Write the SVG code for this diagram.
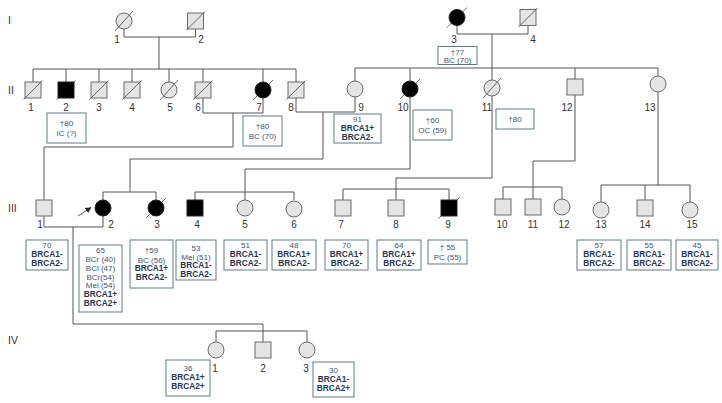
<svg xmlns="http://www.w3.org/2000/svg" width="722" height="403" viewBox="0 0 722 403">
<defs>
<style>
.m{fill:#e4e4e4;stroke:#6a6a6a;stroke-width:1}
.a{fill:#000;stroke:#222;stroke-width:1}
.s{stroke:#555;stroke-width:0.9}
.ln{fill:none;stroke:#555;stroke-width:1}
.bx{fill:#fff;stroke:#5d7c84;stroke-width:1}
.g{font-family:"Liberation Sans",Arial,sans-serif;font-size:10.5px;fill:#333}
.n{font-family:"Liberation Sans",Arial,sans-serif;font-size:10px;fill:#333;text-anchor:middle}
.t{font-family:"Liberation Sans",Arial,sans-serif;font-size:8px;fill:#3d5574;text-anchor:middle}
.b{font-family:"Liberation Sans",Arial,sans-serif;font-size:8.3px;font-weight:bold;fill:#1f3654;text-anchor:middle}
</style>
<marker id="arr" viewBox="0 0 10 10" refX="9" refY="5" markerWidth="6" markerHeight="6" orient="auto" markerUnits="userSpaceOnUse">
<path d="M0,0 L10,5 L0,10 z" fill="#222"/>
</marker>
</defs>
<rect width="722" height="403" fill="#fff"/>

<g id="generation-labels">
<text class="g" x="8" y="24">I</text>
<text class="g" x="8" y="94">II</text>
<text class="g" x="8" y="212">III</text>
<text class="g" x="8" y="344">IV</text>
</g>

<g id="connectors">
<path class="ln" d="M124,29 V37 H195.5 V29"/>
<path class="ln" d="M159,37 V69"/>
<path class="ln" d="M33,69 H296 M33,69 V82 M66,69 V82 M99,69 V82 M132,69 V82 M169,69 V82 M203,69 V82 M263,69 V82 M296,69 V82"/>
<path class="ln" d="M457,25.5 V34 H528 V25.5"/>
<path class="ln" d="M492,34 V68"/>
<path class="ln" d="M355,68 H658 M355,68 V81 M410,68 V81 M492,68 V80 M575,68 V79 M658,68 V76"/>
<path class="ln" d="M203,98 V113 H263 V98"/>
<path class="ln" d="M233,113 V147 H44 V200"/>
<path class="ln" d="M296,98 V112 H355 V97"/>
<path class="ln" d="M323,112 V159 H130 V192"/>
<path class="ln" d="M103,192 H156 M103,192 V200 M156,192 V200"/>
<path class="ln" d="M410,97 V169 H245 V200"/>
<path class="ln" d="M195,192 H294 M195,192 V200 M294,192 V200"/>
<path class="ln" d="M492,96 V178 H396 V189"/>
<path class="ln" d="M343,189 H449 M343,189 V200 M396,189 V200 M449,189 V200"/>
<path class="ln" d="M575,95 V161 H533 V187"/>
<path class="ln" d="M503,187 H562 M503,187 V200 M533,187 V200 M562,187 V200"/>
<path class="ln" d="M658,92 V185"/>
<path class="ln" d="M601,185 H690 M601,185 V202 M645,185 V200 M690,185 V202"/>
<path class="ln" d="M44,216 V227 H103 V216"/>
<path class="ln" d="M73,227 V324 H263 V331"/>
<path class="ln" d="M216,331 H307 M216,331 V342 M263,331 V342 M307,331 V342"/>
<path class="ln" d="M78,216 L91,207.5" marker-end="url(#arr)"/>
</g>

<!-- Generation I -->
<g id="I-1"><circle class="m" cx="124" cy="21" r="8"/><line class="s" x1="115" y1="31" x2="133" y2="11"/><text class="n" x="117" y="43">1</text></g>
<g id="I-2"><rect class="m" x="187.5" y="13" width="16" height="16"/><line class="s" x1="186" y1="30.5" x2="205" y2="11.5"/><text class="n" x="201" y="43">2</text></g>
<g id="I-3"><line class="s" x1="447" y1="27.5" x2="467" y2="7.5"/><circle class="a" cx="457" cy="17.5" r="8"/><text class="n" x="454" y="43">3</text>
<rect class="bx" x="438" y="46.5" width="39" height="18"/><text class="t" x="457.5" y="54.5">†77</text><text class="t" x="457.5" y="63">BC (70)</text></g>
<g id="I-4"><rect class="m" x="520" y="9.5" width="16" height="16"/><line class="s" x1="518.5" y1="27" x2="537.5" y2="8"/><text class="n" x="533" y="43">4</text></g>

<!-- Generation II -->
<g id="II-1"><rect class="m" x="25" y="82" width="16" height="16"/><line class="s" x1="23.5" y1="99.5" x2="42.5" y2="80.5"/><text class="n" x="31" y="111">1</text></g>
<g id="II-2"><line class="s" x1="56.5" y1="99.5" x2="75.5" y2="80.5"/><rect class="a" x="58" y="82" width="16" height="16"/><text class="n" x="66" y="111">2</text>
<rect class="bx" x="47" y="113" width="39" height="30"/><text class="t" x="66.5" y="126">†80</text><text class="t" x="66.5" y="136">IC (?)</text></g>
<g id="II-3"><rect class="m" x="91" y="82" width="16" height="16"/><line class="s" x1="89.5" y1="99.5" x2="108.5" y2="80.5"/><text class="n" x="99" y="111">3</text></g>
<g id="II-4"><rect class="m" x="124" y="82" width="16" height="16"/><line class="s" x1="122.5" y1="99.5" x2="141.5" y2="80.5"/><text class="n" x="132" y="111">4</text></g>
<g id="II-5"><circle class="m" cx="169" cy="90" r="8"/><line class="s" x1="160" y1="100" x2="178" y2="80"/><text class="n" x="170" y="111">5</text></g>
<g id="II-6"><rect class="m" x="195" y="82" width="16" height="16"/><line class="s" x1="193.5" y1="99.5" x2="212.5" y2="80.5"/><text class="n" x="198" y="111">6</text></g>
<g id="II-7"><line class="s" x1="253" y1="100" x2="273" y2="80"/><circle class="a" cx="263" cy="90" r="8"/><text class="n" x="259" y="111">7</text>
<rect class="bx" x="243" y="116" width="39" height="30"/><text class="t" x="262.5" y="129">†80</text><text class="t" x="262.5" y="139">BC (70)</text></g>
<g id="II-8"><rect class="m" x="288" y="82" width="16" height="16"/><line class="s" x1="286.5" y1="99.5" x2="305.5" y2="80.5"/><text class="n" x="291" y="111">8</text></g>
<g id="II-9"><circle class="m" cx="355" cy="89" r="8"/><text class="n" x="361" y="111">9</text>
<rect class="bx" x="334" y="114" width="47" height="29"/><text class="t" x="357.5" y="122">91</text><text class="b" x="357.5" y="131">BRCA1+</text><text class="b" x="357.5" y="140">BRCA2-</text></g>
<g id="II-10"><line class="s" x1="400" y1="99" x2="420" y2="79"/><circle class="a" cx="410" cy="89" r="8"/><text class="n" x="403" y="111">10</text>
<rect class="bx" x="413" y="110" width="39" height="30"/><text class="t" x="432.5" y="123">†60</text><text class="t" x="432.5" y="133">OC (59)</text></g>
<g id="II-11"><circle class="m" cx="492" cy="88" r="8"/><line class="s" x1="483" y1="98" x2="501" y2="78"/><text class="n" x="487" y="111">11</text>
<rect class="bx" x="496" y="109" width="38" height="20"/><text class="t" x="515" y="122">†80</text></g>
<g id="II-12"><rect class="m" x="567" y="79" width="16" height="16"/><text class="n" x="567" y="111">12</text></g>
<g id="II-13"><circle class="m" cx="658" cy="84" r="8"/><text class="n" x="650" y="111">13</text></g>

<!-- Generation III -->
<g id="III-1"><rect class="m" x="36" y="200" width="16" height="16"/><text class="n" x="40" y="228">1</text>
<rect class="bx" x="26" y="240" width="42" height="30"/><text class="t" x="47" y="248">70</text><text class="b" x="47" y="257">BRCA1-</text><text class="b" x="47" y="266">BRCA2-</text></g>
<g id="III-2"><circle class="a" cx="103" cy="208" r="8"/><text class="n" x="111" y="228">2</text>
<rect class="bx" x="79" y="245" width="43" height="67"/>
<text class="t" x="100.5" y="253">65</text><text class="t" x="100.5" y="262">BCr (40)</text><text class="t" x="100.5" y="270.8">BCl (47)</text><text class="t" x="100.5" y="279.6">BCr(54)</text><text class="t" x="100.5" y="288.4">Mel (54)</text><text class="b" x="100.5" y="297.2">BRCA1+</text><text class="b" x="100.5" y="306">BRCA2+</text></g>
<g id="III-3"><line class="s" x1="146" y1="218" x2="166" y2="198"/><circle class="a" cx="156" cy="208" r="8"/><text class="n" x="157" y="228">3</text>
<rect class="bx" x="130" y="240" width="43" height="48"/><text class="t" x="151.5" y="253">†59</text><text class="t" x="151.5" y="262.5">BC (56)</text><text class="b" x="151.5" y="271">BRCA1+</text><text class="b" x="151.5" y="280">BRCA2-</text></g>
<g id="III-4"><rect class="a" x="187" y="200" width="16" height="16"/><text class="n" x="197" y="228">4</text>
<rect class="bx" x="176" y="240" width="40" height="40"/><text class="t" x="196" y="251">53</text><text class="t" x="196" y="259.5">Mel (51)</text><text class="b" x="196" y="268">BRCA1-</text><text class="b" x="196" y="276.5">BRCA2-</text></g>
<g id="III-5"><circle class="m" cx="245" cy="208" r="8"/><text class="n" x="245" y="228">5</text>
<rect class="bx" x="224" y="240" width="43" height="30"/><text class="t" x="245.5" y="248">51</text><text class="b" x="245.5" y="257">BRCA1-</text><text class="b" x="245.5" y="266">BRCA2-</text></g>
<g id="III-6"><circle class="m" cx="294" cy="209" r="8"/><text class="n" x="294" y="228">6</text>
<rect class="bx" x="272" y="240" width="44" height="30"/><text class="t" x="294" y="248">48</text><text class="b" x="294" y="257">BRCA1+</text><text class="b" x="294" y="266">BRCA2-</text></g>
<g id="III-7"><rect class="m" x="335" y="200" width="16" height="16"/><text class="n" x="341" y="228">7</text>
<rect class="bx" x="325" y="240" width="43" height="30"/><text class="t" x="346.5" y="248">70</text><text class="b" x="346.5" y="257">BRCA1+</text><text class="b" x="346.5" y="266">BRCA2-</text></g>
<g id="III-8"><rect class="m" x="388" y="200" width="16" height="16"/><text class="n" x="396" y="228">8</text>
<rect class="bx" x="377" y="240" width="44" height="30"/><text class="t" x="399" y="248">64</text><text class="b" x="399" y="257">BRCA1+</text><text class="b" x="399" y="266">BRCA2-</text></g>
<g id="III-9"><line class="s" x1="438.5" y1="218.5" x2="459.5" y2="197.5"/><rect class="a" x="441" y="200" width="16" height="16"/><text class="n" x="448" y="228">9</text>
<rect class="bx" x="428" y="240" width="39" height="24"/><text class="t" x="447.5" y="250">† 55</text><text class="t" x="447.5" y="259.5">PC (55)</text></g>
<g id="III-10"><rect class="m" x="495" y="199" width="16" height="16"/><text class="n" x="502" y="228">10</text></g>
<g id="III-11"><rect class="m" x="525" y="199" width="16" height="16"/><text class="n" x="533" y="228">11</text></g>
<g id="III-12"><circle class="m" cx="562" cy="207" r="8"/><text class="n" x="564" y="228">12</text></g>
<g id="III-13"><circle class="m" cx="601" cy="210" r="8"/><text class="n" x="601" y="228">13</text>
<rect class="bx" x="577" y="240" width="44" height="30"/><text class="t" x="599" y="248">57</text><text class="b" x="599" y="257">BRCA1-</text><text class="b" x="599" y="266">BRCA2-</text></g>
<g id="III-14"><rect class="m" x="637" y="200" width="16" height="16"/><text class="n" x="645" y="228">14</text>
<rect class="bx" x="627" y="240" width="44" height="30"/><text class="t" x="649" y="248">55</text><text class="b" x="649" y="257">BRCA1-</text><text class="b" x="649" y="266">BRCA2-</text></g>
<g id="III-15"><circle class="m" cx="690" cy="210" r="8"/><text class="n" x="692" y="228">15</text>
<rect class="bx" x="676" y="240" width="42" height="30"/><text class="t" x="697" y="248">45</text><text class="b" x="697" y="257">BRCA1-</text><text class="b" x="697" y="266">BRCA2-</text></g>

<!-- Generation IV -->
<g id="IV-1"><circle class="m" cx="216" cy="350" r="8"/><text class="n" x="215" y="372">1</text>
<rect class="bx" x="166" y="360" width="44" height="36"/><text class="t" x="188" y="371">36</text><text class="b" x="188" y="380">BRCA1+</text><text class="b" x="188" y="389">BRCA2+</text></g>
<g id="IV-2"><rect class="m" x="255" y="342" width="16" height="16"/><text class="n" x="263" y="372">2</text></g>
<g id="IV-3"><circle class="m" cx="307" cy="350" r="8"/><text class="n" x="306" y="372">3</text>
<rect class="bx" x="313" y="362" width="41" height="35"/><text class="t" x="333.5" y="373">30</text><text class="b" x="333.5" y="382">BRCA1-</text><text class="b" x="333.5" y="391">BRCA2+</text></g>
</svg>
